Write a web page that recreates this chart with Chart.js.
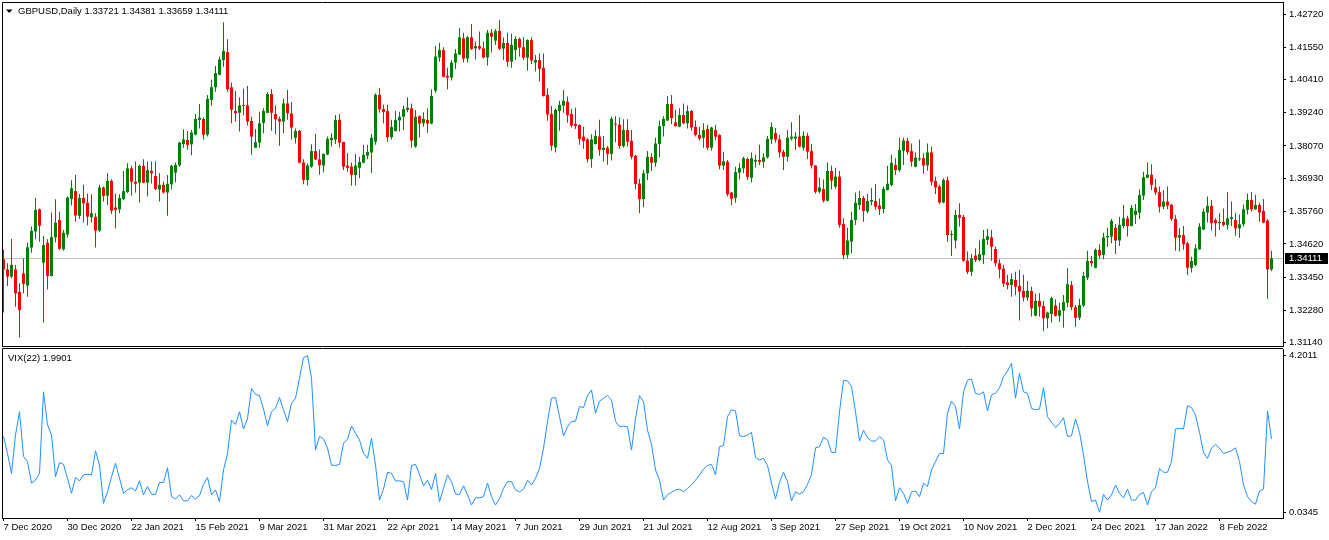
<!DOCTYPE html>
<html>
<head>
<meta charset="utf-8">
<title>GBPUSD Daily</title>
<script src="https://cdn.jsdelivr.net/npm/chart.js@4.4.0/dist/chart.umd.min.js"></script>
<style>
  html, body { margin: 0; padding: 0; background: #fff; }
  #wrap { position: relative; width: 1329px; height: 540px; overflow: hidden; }
  canvas { position: absolute; left: 0; display: block; }
  #priceChart { top: 0; }
  #vixChart { top: 347px; }
</style>
</head>
<body>
<div id="wrap">
  <canvas id="priceChart" width="1329" height="347"></canvas>
  <canvas id="vixChart" width="1329" height="193"></canvas>
</div>
<script>
// GBPUSD daily candles, bar 0 = 7 Dec 2020
const opens = [
  1.3408,1.3372,1.3347,1.3372,1.3293,1.3358,1.3315,1.3449,1.3506,1.3584,
  1.3396,1.3466,1.3349,1.3485,1.3546,1.3443,1.3495,1.3620,1.3648,1.3561,
  1.3624,1.3607,1.3556,1.3557,1.3509,1.3661,1.3632,1.3684,1.3590,1.3584,
  1.3620,1.3645,1.3728,1.3681,1.3678,1.3737,1.3678,1.3719,1.3701,1.3654,
  1.3670,1.3643,1.3672,1.3713,1.3739,1.3814,1.3828,1.3813,1.3847,1.3899,
  1.3902,1.3847,1.3969,1.4014,1.4058,1.4110,1.4138,1.4014,1.3930,1.3924,
  1.3950,1.3950,1.3895,1.3801,1.3819,1.3888,1.3924,1.3990,1.3920,1.3902,
  1.3893,1.3957,1.3922,1.3836,1.3860,1.3749,1.3687,1.3734,1.3789,1.3760,
  1.3738,1.3777,1.3828,1.3830,1.3899,1.3821,1.3738,1.3734,1.3705,1.3730,
  1.3748,1.3773,1.3784,1.3822,1.3987,1.3937,1.3930,1.3838,1.3860,1.3897,
  1.3910,1.3934,1.3940,1.3805,1.3912,1.3887,1.3899,1.3886,1.4002,1.4119,
  1.4145,1.4054,1.4048,1.4101,1.4129,1.4186,1.4115,1.4190,1.4151,1.4159,
  1.4151,1.4119,1.4206,1.4178,1.4212,1.4150,1.4170,1.4104,1.4145,1.4184,
  1.4155,1.4118,1.4180,1.4101,1.4110,1.4082,1.3987,1.3920,1.3802,1.3931,
  1.3949,1.3963,1.3920,1.3884,1.3881,1.3840,1.3830,1.3761,1.3814,1.3840,
  1.3793,1.3801,1.3779,1.3884,1.3882,1.3807,1.3863,1.3825,1.3772,1.3675,
  1.3620,1.3711,1.3768,1.3748,1.3814,1.3877,1.3897,1.3955,1.3890,1.3875,
  1.3916,1.3887,1.3930,1.3874,1.3846,1.3836,1.3867,1.3801,1.3863,1.3846,
  1.3738,1.3751,1.3643,1.3624,1.3713,1.3728,1.3761,1.3695,1.3752,1.3758,
  1.3751,1.3767,1.3830,1.3852,1.3830,1.3786,1.3769,1.3833,1.3833,1.3840,
  1.3801,1.3843,1.3789,1.3738,1.3646,1.3656,1.3614,1.3719,1.3664,1.3699,
  1.3532,1.3423,1.3470,1.3546,1.3599,1.3624,1.3576,1.3611,1.3613,1.3597,
  1.3585,1.3652,1.3670,1.3740,1.3722,1.3790,1.3825,1.3789,1.3734,1.3760,
  1.3764,1.3738,1.3784,1.3684,1.3664,1.3608,1.3686,1.3493,1.3474,1.3564,
  1.3557,1.3403,1.3364,1.3421,1.3405,1.3423,1.3476,1.3485,1.3444,1.3394,
  1.3375,1.3326,1.3317,1.3335,1.3314,1.3296,1.3273,1.3296,1.3209,1.3261,
  1.3243,1.3200,1.3215,1.3245,1.3209,1.3227,1.3255,1.3317,1.3239,1.3202,
  1.3245,1.3343,1.3402,1.3378,1.3441,1.3423,1.3485,1.3488,1.3519,1.3474,
  1.3525,1.3552,1.3525,1.3564,1.3572,1.3632,1.3695,1.3706,1.3661,1.3644,
  1.3593,1.3611,1.3600,1.3550,1.3484,1.3493,1.3464,1.3378,1.3388,1.3443,
  1.3513,1.3572,1.3596,1.3546,1.3535,1.3540,1.3529,1.3550,1.3546,1.3517,
  1.3531,1.3582,1.3617,1.3584,1.3599,1.3578,1.3544,1.33721
];
const highs = [
  1.3441,1.3394,1.3479,1.3388,1.3323,1.3411,1.3466,1.3523,1.3624,1.3587,
  1.3490,1.3478,1.3573,1.3619,1.3575,1.3511,1.3629,1.3686,1.3705,1.3638,
  1.3670,1.3640,1.3637,1.3570,1.3670,1.3664,1.3711,1.3690,1.3640,1.3637,
  1.3719,1.3746,1.3737,1.3752,1.3742,1.3760,1.3752,1.3752,1.3752,1.3711,
  1.3681,1.3705,1.3741,1.3749,1.3822,1.3866,1.3860,1.3863,1.3920,1.3955,
  1.3908,1.3987,1.4040,1.4089,1.4122,1.4243,1.4183,1.4030,1.4001,1.3979,
  1.4009,1.4018,1.3910,1.3867,1.3928,1.3940,1.3996,1.4008,1.3950,1.3910,
  1.3973,1.4004,1.3962,1.3869,1.3863,1.3760,1.3746,1.3813,1.3849,1.3795,
  1.3781,1.3840,1.3852,1.3916,1.3920,1.3822,1.3781,1.3749,1.3779,1.3769,
  1.3811,1.3811,1.3849,1.3993,1.4011,1.3952,1.3952,1.3899,1.3930,1.3928,
  1.3949,1.3979,1.3957,1.3934,1.3914,1.3926,1.3940,1.4007,1.4159,1.4171,
  1.4155,1.4083,1.4110,1.4149,1.4223,1.4206,1.4195,1.4237,1.4175,1.4210,
  1.4175,1.4216,1.4218,1.4219,1.4251,1.4189,1.4206,1.4202,1.4194,1.4189,
  1.4190,1.4183,1.4189,1.4128,1.4133,1.4133,1.4010,1.3948,1.3940,1.3966,
  1.4004,1.3981,1.3937,1.3942,1.3884,1.3875,1.3834,1.3848,1.3863,1.3899,
  1.3842,1.3807,1.3910,1.3912,1.3907,1.3901,1.3901,1.3863,1.3776,1.3691,
  1.3722,1.3789,1.3781,1.3836,1.3897,1.3912,1.3983,1.3987,1.3934,1.3940,
  1.3957,1.3950,1.3934,1.3897,1.3875,1.3887,1.3881,1.3875,1.3881,1.3848,
  1.3787,1.3758,1.3646,1.3734,1.3746,1.3769,1.3766,1.3784,1.3776,1.3811,
  1.3781,1.3842,1.3891,1.3870,1.3846,1.3793,1.3863,1.3891,1.3855,1.3916,
  1.3858,1.3854,1.3814,1.3740,1.3695,1.3689,1.3749,1.3737,1.3730,1.3719,
  1.3552,1.3519,1.3575,1.3643,1.3648,1.3631,1.3638,1.3659,1.3673,1.3622,
  1.3664,1.3737,1.3776,1.3764,1.3836,1.3836,1.3836,1.3816,1.3784,1.3830,
  1.3781,1.3816,1.3805,1.3699,1.3670,1.3693,1.3699,1.3509,1.3582,1.3605,
  1.3564,1.3435,1.3426,1.3446,1.3474,1.3511,1.3515,1.3511,1.3452,1.3408,
  1.3388,1.3353,1.3358,1.3364,1.3370,1.3353,1.3331,1.3311,1.3286,1.3288,
  1.3261,1.3223,1.3276,1.3267,1.3255,1.3282,1.3376,1.3331,1.3247,1.3269,
  1.3364,1.3438,1.3419,1.3446,1.3461,1.3501,1.3519,1.3550,1.3532,1.3558,
  1.3599,1.3561,1.3599,1.3603,1.3654,1.3716,1.3749,1.3743,1.3691,1.3664,
  1.3652,1.3664,1.3603,1.3564,1.3517,1.3525,1.3470,1.3417,1.3461,1.3535,
  1.3587,1.3629,1.3617,1.3552,1.3570,1.3587,1.3645,1.3611,1.3572,1.3566,
  1.3601,1.3640,1.3645,1.3635,1.3607,1.3620,1.3550,1.34381
];
const lows = [
  1.3220,1.3314,1.3341,1.3241,1.3132,1.3288,1.3276,1.3431,1.3478,1.3470,
  1.3185,1.3302,1.3347,1.3468,1.3441,1.3438,1.3485,1.3597,1.3540,1.3550,
  1.3537,1.3528,1.3537,1.3449,1.3504,1.3611,1.3599,1.3567,1.3516,1.3570,
  1.3617,1.3641,1.3632,1.3643,1.3608,1.3676,1.3629,1.3675,1.3652,1.3611,
  1.3640,1.3561,1.3654,1.3678,1.3734,1.3801,1.3795,1.3774,1.3845,1.3869,
  1.3830,1.3840,1.3949,1.3998,1.4056,1.4086,1.3998,1.3887,1.3893,1.3858,
  1.3915,1.3879,1.3777,1.3800,1.3801,1.3852,1.3922,1.3861,1.3848,1.3808,
  1.3852,1.3899,1.3830,1.3816,1.3746,1.3672,1.3668,1.3730,1.3758,1.3706,
  1.3714,1.3774,1.3805,1.3814,1.3802,1.3722,1.3716,1.3668,1.3668,1.3693,
  1.3746,1.3760,1.3713,1.3811,1.3924,1.3887,1.3822,1.3830,1.3858,1.3858,
  1.3863,1.3926,1.3802,1.3801,1.3838,1.3875,1.3854,1.3884,1.3995,1.4104,
  1.4049,1.4007,1.4038,1.4078,1.4128,1.4101,1.4101,1.4145,1.4112,1.4145,
  1.4115,1.4091,1.4136,1.4163,1.4145,1.4110,1.4086,1.4083,1.4110,1.4122,
  1.4110,1.4072,1.4096,1.4069,1.4034,1.3981,1.3896,1.3790,1.3784,1.3861,
  1.3924,1.3889,1.3872,1.3867,1.3811,1.3797,1.3749,1.3730,1.3812,1.3773,
  1.3752,1.3741,1.3756,1.3820,1.3797,1.3801,1.3805,1.3760,1.3654,1.3570,
  1.3591,1.3687,1.3719,1.3734,1.3767,1.3840,1.3895,1.3884,1.3875,1.3873,
  1.3884,1.3869,1.3861,1.3840,1.3826,1.3801,1.3793,1.3790,1.3826,1.3725,
  1.3722,1.3629,1.3599,1.3607,1.3689,1.3711,1.3687,1.3678,1.3731,1.3740,
  1.3730,1.3763,1.3814,1.3819,1.3766,1.3722,1.3752,1.3826,1.3793,1.3802,
  1.3790,1.3761,1.3728,1.3640,1.3640,1.3608,1.3611,1.3654,1.3656,1.3519,
  1.3409,1.3411,1.3429,1.3529,1.3582,1.3540,1.3570,1.3597,1.3582,1.3564,
  1.3570,1.3650,1.3666,1.3705,1.3716,1.3740,1.3776,1.3734,1.3732,1.3754,
  1.3709,1.3720,1.3668,1.3638,1.3603,1.3605,1.3470,1.3419,1.3446,1.3523,
  1.3399,1.3356,1.3349,1.3398,1.3401,1.3391,1.3458,1.3403,1.3382,1.3341,
  1.3311,1.3302,1.3276,1.3282,1.3192,1.3259,1.3262,1.3206,1.3207,1.3206,
  1.3156,1.3165,1.3185,1.3206,1.3188,1.3167,1.3239,1.3229,1.3170,1.3194,
  1.3239,1.3335,1.3382,1.3376,1.3411,1.3408,1.3452,1.3464,1.3426,1.3455,
  1.3517,1.3488,1.3523,1.3532,1.3550,1.3617,1.3693,1.3652,1.3634,1.3573,
  1.3584,1.3585,1.3544,1.3438,1.3435,1.3441,1.3353,1.3361,1.3382,1.3441,
  1.3511,1.3537,1.3509,1.3488,1.3511,1.3523,1.3513,1.3525,1.3491,1.3484,
  1.3523,1.3566,1.3575,1.3582,1.3540,1.3535,1.3269,1.33659
];
const closes = [
  1.3372,1.3347,1.3388,1.3288,1.3229,1.3321,1.3450,1.3508,1.3582,1.3526,
  1.3458,1.3349,1.3486,1.3537,1.3445,1.3501,1.3625,1.3658,1.3562,1.3624,
  1.3605,1.3558,1.3570,1.3509,1.3661,1.3631,1.3684,1.3579,1.3582,1.3624,
  1.3648,1.3728,1.3681,1.3674,1.3737,1.3678,1.3722,1.3711,1.3656,1.3670,
  1.3643,1.3674,1.3737,1.3740,1.3819,1.3830,1.3811,1.3854,1.3902,1.3907,
  1.3847,1.3973,1.4014,1.4064,1.4112,1.4142,1.4007,1.3935,1.3923,1.3950,
  1.3948,1.3893,1.3840,1.3820,1.3887,1.3930,1.3990,1.3924,1.3901,1.3893,
  1.3957,1.3922,1.3872,1.3860,1.3748,1.3687,1.3738,1.3789,1.3760,1.3739,
  1.3779,1.3832,1.3836,1.3899,1.3819,1.3734,1.3730,1.3705,1.3738,1.3751,
  1.3776,1.3786,1.3836,1.3987,1.3936,1.3927,1.3838,1.3874,1.3899,1.3910,
  1.3937,1.3942,1.3826,1.3910,1.3886,1.3902,1.3886,1.3983,1.4122,1.4145,
  1.4051,1.4048,1.4101,1.4133,1.4190,1.4115,1.4190,1.4149,1.4159,1.4150,
  1.4119,1.4206,1.4192,1.4212,1.4150,1.4170,1.4104,1.4163,1.4184,1.4154,
  1.4118,1.4180,1.4108,1.4110,1.4079,1.3983,1.3918,1.3808,1.3934,1.3952,
  1.3966,1.3916,1.3879,1.3877,1.3832,1.3825,1.3761,1.3830,1.3842,1.3793,
  1.3801,1.3779,1.3903,1.3882,1.3807,1.3863,1.3822,1.3769,1.3673,1.3620,
  1.3711,1.3769,1.3748,1.3816,1.3877,1.3902,1.3955,1.3905,1.3877,1.3916,
  1.3887,1.3930,1.3872,1.3846,1.3833,1.3863,1.3801,1.3872,1.3840,1.3738,
  1.3753,1.3637,1.3621,1.3715,1.3729,1.3764,1.3698,1.3764,1.3758,1.3751,
  1.3767,1.3832,1.3874,1.3829,1.3784,1.3769,1.3836,1.3840,1.3840,1.3805,
  1.3843,1.3787,1.3738,1.3646,1.3661,1.3614,1.3719,1.3685,1.3699,1.3529,
  1.3423,1.3474,1.3546,1.3607,1.3624,1.3578,1.3613,1.3617,1.3593,1.3585,
  1.3656,1.3674,1.3748,1.3722,1.3793,1.3826,1.3785,1.3752,1.3766,1.3764,
  1.3738,1.3784,1.3681,1.3661,1.3608,1.3687,1.3493,1.3497,1.3564,1.3554,
  1.3403,1.3364,1.3411,1.3405,1.3426,1.3479,1.3489,1.3452,1.3394,1.3372,
  1.3322,1.3317,1.3338,1.3311,1.3294,1.3273,1.3297,1.3235,1.3261,1.3241,
  1.3200,1.3220,1.3271,1.3209,1.3229,1.3257,1.3320,1.3239,1.3202,1.3247,
  1.3349,1.3402,1.3394,1.3441,1.3421,1.3485,1.3490,1.3543,1.3474,1.3529,
  1.3552,1.3525,1.3589,1.3579,1.3634,1.3697,1.3706,1.3670,1.3643,1.3593,
  1.3611,1.3597,1.3550,1.3484,1.3493,1.3461,1.3378,1.3402,1.3446,1.3523,
  1.3575,1.3596,1.3535,1.3535,1.3540,1.3529,1.3552,1.3556,1.3517,1.3531,
  1.3584,1.3617,1.3584,1.3599,1.3573,1.3537,1.3372,1.34111
];
// VIX(22) indicator, one value per bar
const vix = [
  2.05,1.60,1.07,2.09,2.71,1.52,1.38,0.81,0.89,1.07,
  3.24,2.36,2.09,0.98,1.36,1.31,0.94,0.54,0.96,0.87,
  1.03,1.05,1.03,1.67,1.29,0.27,0.58,0.98,1.34,0.94,
  0.54,0.63,0.69,0.60,0.87,0.50,0.72,0.51,0.51,0.83,
  0.83,1.22,0.45,0.39,0.50,0.34,0.34,0.48,0.39,0.48,
  0.78,0.96,0.50,0.63,0.32,1.16,1.60,2.49,2.37,2.71,
  2.25,2.52,3.33,3.17,3.14,2.78,2.34,2.71,2.80,3.09,
  2.76,2.45,2.93,3.07,3.60,4.15,4.2011,3.60,1.69,2.05,
  1.99,1.74,1.29,1.28,1.31,1.87,1.98,2.33,2.14,1.96,
  1.60,1.47,2.00,1.29,0.36,0.65,1.10,1.07,0.87,0.87,
  0.85,0.36,1.28,1.31,1.04,0.74,0.89,0.64,1.07,0.32,
  0.67,1.03,0.85,0.52,0.51,0.74,0.50,0.23,0.42,0.42,
  0.45,0.81,0.45,0.23,0.39,0.67,0.85,0.85,0.63,0.58,
  0.65,0.89,0.76,0.94,1.20,1.74,2.45,3.07,3.09,2.58,
  2.07,2.31,2.45,2.46,2.85,2.82,3.14,3.29,2.67,2.99,
  3.07,3.14,3.02,2.46,2.31,2.33,2.31,1.69,2.52,3.14,
  2.98,2.22,1.84,1.16,0.89,0.36,0.50,0.57,0.63,0.65,
  0.58,0.67,0.76,0.89,1.03,1.18,1.28,1.31,1.03,1.78,
  1.81,2.58,2.76,2.73,2.07,2.05,2.09,2.16,1.49,1.43,
  1.47,1.28,0.81,0.39,0.83,1.10,0.85,0.34,0.58,0.52,
  0.58,0.78,1.04,1.75,1.78,2.03,1.96,1.63,1.63,2.71,
  3.55,3.53,3.38,2.71,1.93,2.22,2.02,1.93,1.93,2.05,
  1.96,1.43,1.28,0.34,0.69,0.54,0.27,0.58,0.60,0.45,
  0.81,0.72,1.16,1.38,1.60,1.60,2.67,2.99,2.85,2.25,
  3.24,3.55,3.58,3.20,3.17,3.24,2.73,3.16,3.20,3.35,
  3.64,3.79,4.00,3.07,3.73,3.24,3.20,2.80,2.76,2.78,
  3.35,2.58,2.43,2.29,2.40,2.55,2.05,2.07,2.52,2.16,
  1.56,0.85,0.32,0.36,0.0345,0.51,0.36,0.50,0.76,0.54,
  0.42,0.65,0.36,0.36,0.51,0.56,0.23,0.58,0.69,1.20,
  1.10,1.10,1.38,2.25,2.27,2.25,2.87,2.82,2.62,2.16,
  1.63,1.47,1.74,1.84,1.74,1.60,1.63,1.67,1.75,1.38,
  0.76,0.45,0.32,0.25,0.60,0.65,2.73,1.9901
];
// axis labels
const priceTicks = [1.4272, 1.4155, 1.4041, 1.3924, 1.3807, 1.3693, 1.3576, 1.3462, 1.3345, 1.3228, 1.3114];
const vixTicks = [0.0345, 4.2011];
const dateLabels = ['7 Dec 2020', '30 Dec 2020', '22 Jan 2021', '15 Feb 2021', '9 Mar 2021', '31 Mar 2021',
  '22 Apr 2021', '14 May 2021', '7 Jun 2021', '29 Jun 2021', '21 Jul 2021', '12 Aug 2021', '3 Sep 2021',
  '27 Sep 2021', '19 Oct 2021', '10 Nov 2021', '2 Dec 2021', '24 Dec 2021', '17 Jan 2022', '8 Feb 2022'];
const labelStep = 16;

const FAMILY = 'Liberation Sans';
const tickFont = { family: FAMILY, size: 9.5 };
const xMin = -0.375, xMax = 319.875; // 4px per bar, a few empty slots on the right
const last = closes.length - 1;

const idx = opens.map((_, i) => i);
const colors = idx.map(i => closes[i] >= opens[i] ? '#008000' : '#ff0000');

const noPad = s => { s.paddingTop = 0; s.paddingBottom = 0; s.paddingLeft = 0; s.paddingRight = 0; };

// gray last-price line, frame, price tag and title
const priceDecor = {
  id: 'priceDecor',
  beforeDatasetsDraw(chart) {
    const { ctx, chartArea: a, scales: { y } } = chart;
    const py = Math.round(y.getPixelForValue(closes[last])) + 0.5;
    ctx.save();
    ctx.strokeStyle = '#c0c0c0';
    ctx.lineWidth = 1;
    ctx.beginPath();
    ctx.moveTo(a.left, py);
    ctx.lineTo(a.right, py);
    ctx.stroke();
    ctx.restore();
  },
  afterDraw(chart) {
    const { ctx, chartArea: a, scales: { y } } = chart;
    ctx.save();
    ctx.strokeStyle = '#000';
    ctx.lineWidth = 1;
    ctx.beginPath();
    ctx.moveTo(a.left + 0.5, a.bottom + 0.5);
    ctx.lineTo(a.left + 0.5, a.top + 0.5);
    ctx.lineTo(a.right, a.top + 0.5);
    ctx.moveTo(a.left, a.bottom + 0.5);
    ctx.lineTo(a.right + 1, a.bottom + 0.5);
    ctx.stroke();

    const py = Math.round(y.getPixelForValue(closes[last]));
    ctx.fillStyle = '#000';
    ctx.fillRect(a.right + 2, py - 5, 43, 11);
    ctx.fillStyle = '#fff';
    ctx.font = '9.5px "' + FAMILY + '"';
    ctx.textBaseline = 'middle';
    ctx.textAlign = 'left';
    ctx.fillText(closes[last].toFixed(5), a.right + 6, py + 0.5);

    ctx.fillStyle = '#000';
    ctx.beginPath();
    ctx.moveTo(6, 9.5);
    ctx.lineTo(12.5, 9.5);
    ctx.lineTo(9.25, 13);
    ctx.closePath();
    ctx.fill();
    ctx.textBaseline = 'alphabetic';
    const title = 'GBPUSD,Daily ' + [opens[last], highs[last], lows[last], closes[last]].map(v => v.toFixed(5)).join(' ');
    ctx.fillText(title, 18, 14);
    ctx.restore();
  }
};

const vixDecor = {
  id: 'vixDecor',
  afterDraw(chart) {
    const { ctx, chartArea: a } = chart;
    ctx.save();
    ctx.strokeStyle = '#000';
    ctx.lineWidth = 1;
    ctx.beginPath();
    ctx.moveTo(a.left + 0.5, a.bottom);
    ctx.lineTo(a.left + 0.5, a.top - 0.5);
    ctx.lineTo(a.right, a.top - 0.5);
    ctx.stroke();
    ctx.fillStyle = '#000';
    ctx.font = '9.5px "' + FAMILY + '"';
    ctx.textBaseline = 'alphabetic';
    ctx.fillText('VIX(22) ' + vix[last].toFixed(4), 8, 14);
    ctx.restore();
  }
};

new Chart(document.getElementById('priceChart'), {
  type: 'bar',
  data: {
    datasets: [
      {
        label: 'wick',
        data: idx.map(i => ({ x: i, y: [lows[i], highs[i]] })),
        backgroundColor: colors,
        barThickness: 1,
        maxBarThickness: 1,
        inflateAmount: 0,
        grouped: false
      },
      {
        label: 'body',
        data: idx.map(i => ({ x: i, y: [opens[i], closes[i]] })),
        backgroundColor: colors,
        barThickness: 3,
        maxBarThickness: 3,
        minBarLength: 1,
        inflateAmount: 0,
        grouped: false
      }
    ]
  },
  options: {
    responsive: false,
    animation: false,
    devicePixelRatio: 1,
    events: [],
    layout: { padding: { left: 2, top: 2, right: 0, bottom: 1 } },
    plugins: { legend: { display: false }, tooltip: { enabled: false } },
    scales: {
      x: { type: 'linear', display: false, min: xMin, max: xMax, offset: false },
      y: {
        position: 'right',
        min: 1.31023,
        max: 1.43143,
        afterBuildTicks: s => { s.ticks = priceTicks.map(v => ({ value: v })); },
        afterFit: s => { s.width = 46; noPad(s); },
        ticks: { callback: v => v.toFixed(5), padding: 3, color: '#000', font: tickFont, autoSkip: false },
        grid: { drawOnChartArea: false, drawTicks: true, tickLength: 3, color: '#000' },
        border: { display: true, color: '#000' }
      }
    }
  },
  plugins: [priceDecor]
});

new Chart(document.getElementById('vixChart'), {
  type: 'line',
  data: {
    datasets: [{
      label: 'VIX(22)',
      data: idx.map(i => ({ x: i, y: vix[i] })),
      borderColor: '#1e90ff',
      borderWidth: 1,
      pointRadius: 0,
      tension: 0,
      fill: false
    }]
  },
  options: {
    responsive: false,
    animation: false,
    devicePixelRatio: 1,
    events: [],
    layout: { padding: { left: 2, top: 2, right: 0, bottom: 0 } },
    plugins: { legend: { display: false }, tooltip: { enabled: false } },
    scales: {
      x: {
        type: 'linear',
        min: xMin,
        max: xMax,
        afterBuildTicks: s => { s.ticks = dateLabels.map((_, j) => ({ value: j * labelStep })); },
        afterFit: s => { s.height = 22; noPad(s); },
        ticks: {
          callback: v => dateLabels[Math.round(v / labelStep)],
          align: 'start', maxRotation: 0, minRotation: 0, autoSkip: false,
          padding: 1, color: '#000', font: tickFont
        },
        grid: { drawOnChartArea: false, drawTicks: true, tickLength: 3, color: '#000' },
        border: { display: true, color: '#000' }
      },
      y: {
        position: 'right',
        min: -0.117,
        max: 4.379,
        afterBuildTicks: s => { s.ticks = vixTicks.map(v => ({ value: v })); },
        afterFit: s => { s.width = 46; noPad(s); },
        ticks: { callback: v => v.toFixed(4), padding: 3, color: '#000', font: tickFont },
        grid: { drawOnChartArea: false, drawTicks: true, tickLength: 3, color: '#000' },
        border: { display: true, color: '#000' }
      }
    }
  },
  plugins: [vixDecor]
});
</script>
</body>
</html>
